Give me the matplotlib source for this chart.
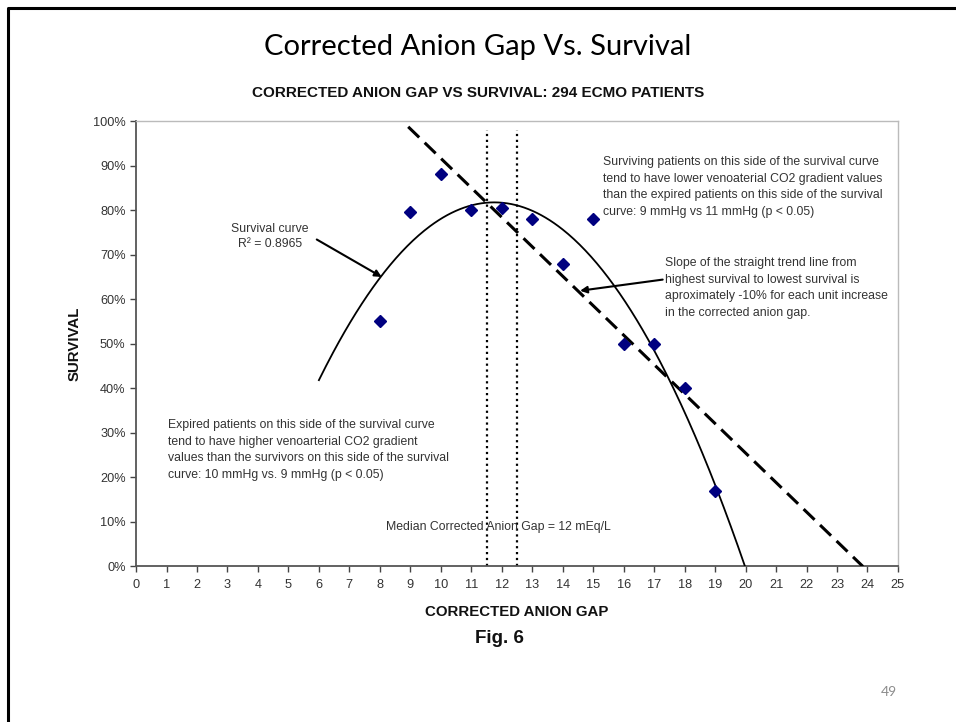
import numpy as np
import matplotlib.pyplot as plt
from matplotlib.lines import Line2D
from matplotlib.ticker import PercentFormatter, MultipleLocator

# data
gap = [8, 9, 10, 11, 12, 13, 14, 15, 16, 17, 18, 19]
survival = [0.55, 0.795, 0.88, 0.80, 0.805, 0.78, 0.68, 0.78, 0.50, 0.50, 0.40, 0.17]

# hand-drawn straight trend line (end points)
trend_x = [8.93, 23.85]
trend_y = [0.987, 0.0]

# dotted lines either side of the median
median_x = [11.5, 12.5]
median_top = 0.98

plt.rcParams['font.family'] = ['Liberation Sans', 'DejaVu Sans']
txt_col = '#333333'
note_size = 8.8
note_ls = 1.5

fig = plt.figure(figsize=(9.56, 7.22), dpi=100)
ax = fig.add_axes([0.1423, 0.2154, 0.797, 0.617])

# 2nd order trendline, forecast back 2 units like Excel did
coef = np.polyfit(gap, survival, 2)
x_end = max(np.roots(coef).real)
xs = np.linspace(min(gap) - 2, x_end, 300)
ax.plot(xs, np.polyval(coef, xs), color='black', lw=1.3, zorder=3)

ax.plot(trend_x, trend_y, color='black', lw=2.2, dashes=(5, 2.5), zorder=3)

for mx in median_x:
    ax.plot([mx, mx], [0, median_top], color='black', lw=1.6, ls=':', zorder=2)

ax.plot(gap, survival, 'D', color='#000080', markersize=6.3, zorder=4)

ax.set_xlim(0, 25)
ax.set_ylim(0, 1)
ax.xaxis.set_major_locator(MultipleLocator(1))
ax.yaxis.set_major_locator(MultipleLocator(0.1))
ax.yaxis.set_major_formatter(PercentFormatter(1.0, decimals=0))
ax.tick_params(direction='out', length=4, width=1, colors='#444444', labelsize=9.2, labelcolor='#333333')
ax.tick_params(axis='x', pad=5)
for s in ['left', 'bottom']:
    ax.spines[s].set_color('#555555')
    ax.spines[s].set_linewidth(1.3)
for s in ['top', 'right']:
    ax.spines[s].set_color('#bbbbbb')
    ax.spines[s].set_linewidth(1.0)

# annotations
ax.text(15.32, 0.921,
        'Surviving patients on this side of the survival curve\n'
        'tend to have lower venoaterial CO2 gradient values\n'
        'than the expired patients on this side of the survival\n'
        'curve: 9 mmHg vs 11 mmHg (p < 0.05)',
        fontsize=note_size, color=txt_col, va='top', ha='left', linespacing=note_ls)
ax.text(17.36, 0.694,
        'Slope of the straight trend line from\n'
        'highest survival to lowest survival is\n'
        'aproximately -10% for each unit increase\n'
        'in the corrected anion gap.',
        fontsize=note_size, color=txt_col, va='top', ha='left', linespacing=note_ls)
ax.text(1.05, 0.33,
        'Expired patients on this side of the survival curve\n'
        'tend to have higher venoarterial CO2 gradient\n'
        'values than the survivors on this side of the survival\n'
        'curve: 10 mmHg vs. 9 mmHg (p < 0.05)',
        fontsize=note_size, color=txt_col, va='top', ha='left', linespacing=note_ls)
ax.text(4.4, 0.771, 'Survival curve\nR² = 0.8965',
        fontsize=note_size, color=txt_col, va='top', ha='center', linespacing=1.3)
ax.text(8.2, 0.088, 'Median Corrected Anion Gap = 12 mEq/L',
        fontsize=note_size, color=txt_col, va='center', ha='left')

arrow = dict(arrowstyle='-|>', color='black', lw=1.5, mutation_scale=10, shrinkA=0, shrinkB=0)
ax.annotate('', xy=(8.06, 0.65), xytext=(5.93, 0.734), arrowprops=arrow)
ax.annotate('', xy=(14.57, 0.619), xytext=(17.28, 0.644), arrowprops=arrow)

ax.set_xlabel('CORRECTED ANION GAP', fontsize=10.8, fontweight='bold', color='#111111', labelpad=10)
ax.set_ylabel('SURVIVAL', fontsize=10.8, fontweight='bold', color='#111111', labelpad=8)

# slide texts
fig.text(0.5, 0.935, 'Corrected Anion Gap Vs. Survival', fontsize=21,
         family=['Lato', 'DejaVu Sans'], ha='center', va='center', color='black')
fig.text(0.5, 0.871, 'CORRECTED ANION GAP VS SURVIVAL: 294 ECMO PATIENTS', fontsize=11,
         fontweight='bold', ha='center', va='center', color='#111111')
fig.text(0.522, 0.115, 'Fig. 6', fontsize=13.5, fontweight='bold', ha='center', va='center', color='#111111')
fig.text(0.93, 0.042, '49', fontsize=10, family=['Lato', 'DejaVu Sans'], ha='center', va='center', color='#8c8c8c')

# slide frame (left and top edges)
fx = 8 / 956
fy = 1 - 8 / 722
fig.add_artist(Line2D([fx, fx, 1], [0, fy, fy], transform=fig.transFigure, color='black', lw=2.2))

fig.savefig('out.png', dpi=100)
